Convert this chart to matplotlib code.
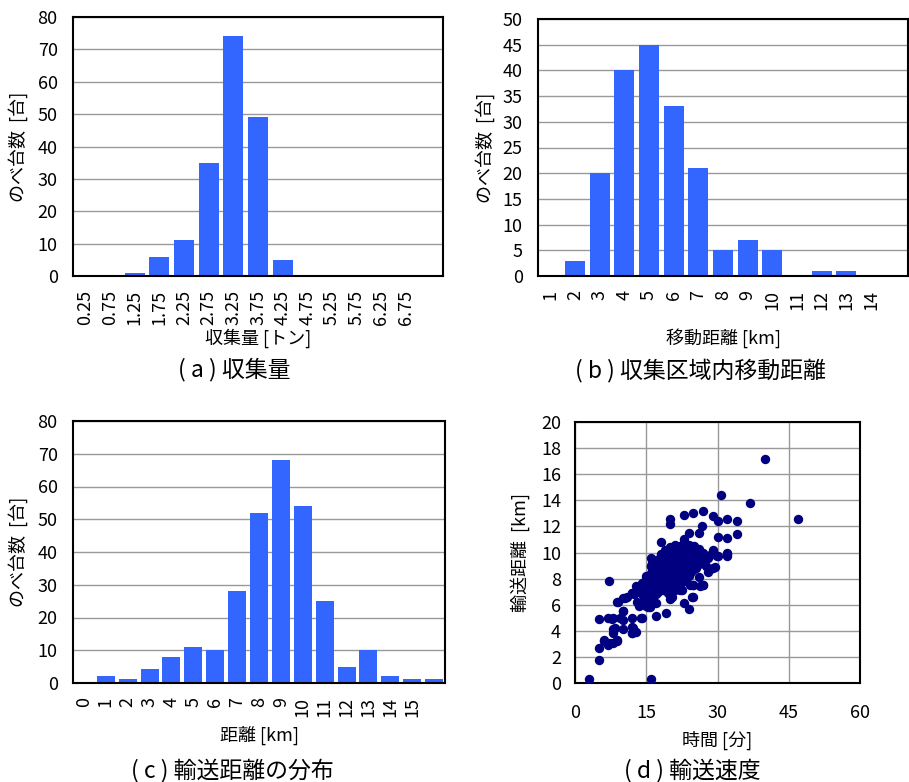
import matplotlib
matplotlib.use("Agg")
import matplotlib.pyplot as plt

plt.rcParams['font.family'] = ['Noto Sans CJK JP', 'DejaVu Sans']

# ---------------- data ----------------
cat_a = ["0.25", "0.75", "1.25", "1.75", "2.25", "2.75", "3.25", "3.75",
         "4.25", "4.75", "5.25", "5.75", "6.25", "6.75", ""]
val_a = [0, 0, 1, 6, 11, 35, 74, 49, 5, 0, 0, 0, 0, 0, 0]

cat_b = ["1", "2", "3", "4", "5", "6", "7", "8", "9", "10", "11", "12", "13", "14", ""]
val_b = [0, 3, 20, 40, 45, 33, 21, 5, 7, 5, 0, 1, 1, 0, 0]

cat_c = ["0", "1", "2", "3", "4", "5", "6", "7", "8", "9", "10", "11", "12",
         "13", "14", "15", ""]
val_c = [0, 2, 1.3, 4.4, 8, 11, 10, 28, 52, 68, 54, 25, 5, 10, 2, 1.3, 1.3]

# scatter (time [min], distance [km])
time_d = [
    2.9, 16.0, 5.1, 5.1, 5.1, 7.2, 40.0, 46.9, 30.8, 36.9, 34.0, 34.0, 31.9, 30.1,
    29.1, 27.0, 24.9, 23.0, 20.0, 20.0, 26.8, 26.0, 24.0, 23.0, 30.1, 31.9, 31.9,
    31.9, 29.1, 30.0, 29.1, 28.0, 27.0, 26.0, 24.9, 24.9, 23.0, 24.0, 18.1, 18.1,
    16.0, 16.0, 19.1, 17.0, 14.0, 12.1, 12.1, 12.9, 12.1, 10.0, 10.0, 10.0, 8.0,
    7.0, 8.0, 8.9, 8.0, 7.0, 6.0, 8.9, 10.0, 11.0, 12.1, 12.9, 14.0, 15.0, 14.0,
    15.0, 16.0, 17.0, 20.0, 9.1, 10.2, 9.5, 7.7, 8.4, 12.2, 6.0, 7.4, 8.8, 8.1,
    11.9, 10.5, 11.9, 13.8, 15.8, 16.5, 15.3, 22.1, 24.9, 27.0, 24.2, 22.5, 20.4,
    24.6, 26.3, 29.5, 28.4, 16.1, 16.5, 18.3, 31.9, 29.9,
    13.0, 13.5, 12.5, 13.0,
    14.0, 14.0, 14.5, 14.5, 14.2,
    15.0, 15.0, 15.0, 15.0, 15.5, 15.5, 15.5, 15.3,
    16.0, 16.0, 16.0, 16.0, 16.5, 16.5, 16.5, 16.3,
    17.0, 17.0, 17.0, 17.0, 17.0, 17.5, 17.5, 17.5, 17.5, 17.3,
    18.0, 18.0, 18.0, 18.0, 18.0, 18.5, 18.5, 18.5, 18.5, 18.5,
    19.0, 19.0, 19.0, 19.0, 19.0, 19.0, 19.5, 19.5, 19.5, 19.5, 19.5, 19.5,
    20.0, 20.0, 20.0, 20.0, 20.0, 20.0, 20.0, 20.5, 20.5, 20.5, 20.5, 20.5,
    21.0, 21.0, 21.0, 21.0, 21.0, 21.0, 21.0, 21.5, 21.5, 21.5, 21.5, 21.5,
    22.0, 22.0, 22.0, 22.0, 22.0, 22.0, 22.5, 22.5, 22.5, 22.5, 22.5,
    23.0, 23.0, 23.0, 23.0, 23.0, 23.0, 23.5, 23.5, 23.5, 23.5,
    24.0, 24.0, 24.0, 24.0, 24.0, 24.5, 24.5, 24.5, 24.5,
    25.0, 25.0, 25.0, 25.0, 25.5, 25.5, 25.5,
    26.0, 26.0, 26.0, 26.5, 26.5,
    27.0, 27.0, 27.5, 27.5,
    28.0, 28.5,
]
dist_d = [
    0.3, 0.3, 1.8, 2.7, 4.9, 7.8, 17.2, 12.6, 14.4, 13.8, 12.4, 11.4, 12.6, 12.4,
    12.8, 13.2, 13.0, 12.9, 12.6, 12.2, 12.0, 11.5, 11.5, 11.0, 11.2, 11.1, 10.0,
    9.7, 10.2, 9.7, 8.8, 8.5, 7.5, 8.1, 7.5, 6.6, 6.1, 5.7, 10.8, 9.9,
    9.6, 9.0, 5.4, 5.1, 5.0, 5.0, 4.3, 3.9, 3.8, 5.5, 4.8, 4.1, 5.0,
    5.0, 4.1, 3.3, 3.1, 2.9, 3.3, 6.2, 6.5, 6.6, 6.9, 7.4, 7.7, 8.2, 6.1,
    5.9, 6.1, 6.1, 6.4, 6.2, 5.5, 5.0, 4.9, 4.2, 4.2, 3.2, 3.1, 3.2, 3.8,
    3.8, 6.5, 6.9, 5.0, 5.8, 6.2, 6.4, 7.1, 7.5, 7.5, 7.5, 7.1, 6.6,
    6.6, 7.4, 8.9, 8.7, 9.0, 9.4, 9.9, 9.9, 9.7,
    6.2, 5.9, 6.8, 7.2,
    7.6, 7.0, 7.3, 6.4, 6.8,
    8.0, 7.4, 6.8, 6.2, 7.8, 7.1, 6.5, 5.8,
    8.4, 7.8, 7.2, 6.6, 8.1, 7.5, 6.9, 9.2,
    9.0, 8.5, 7.9, 7.3, 6.8, 8.8, 8.2, 7.6, 7.0, 9.4,
    9.8, 9.2, 8.6, 8.0, 7.4, 9.5, 8.9, 8.3, 7.7, 7.1,
    10.2, 9.6, 9.0, 8.4, 7.8, 7.2, 9.9, 9.3, 8.7, 8.1, 7.5, 6.9,
    10.4, 9.8, 9.2, 8.6, 8.0, 7.4, 6.8, 10.1, 9.5, 8.9, 8.3, 7.7,
    10.6, 10.0, 9.4, 8.8, 8.2, 7.6, 7.1, 10.3, 9.7, 9.1, 8.5, 7.9,
    10.5, 9.9, 9.3, 8.7, 8.1, 7.5, 10.2, 9.6, 9.0, 8.4, 7.8,
    10.8, 10.1, 9.5, 8.9, 8.3, 7.8, 10.4, 9.8, 9.2, 8.6,
    10.6, 10.0, 9.4, 8.8, 8.2, 10.3, 9.7, 9.1, 8.5,
    10.5, 9.9, 9.3, 8.7, 10.0, 9.4, 8.8,
    10.3, 9.7, 9.1, 9.9, 9.3,
    10.0, 9.4, 9.7, 9.0,
    9.6, 9.8,
]

xlabel_a = "収集量 [トン]"
xlabel_b = "移動距離 [km]"
xlabel_c = "距離 [km]"
xlabel_d = "時間 [分]"
ylabel_hist = "のべ台数  [台]"
ylabel_d = "輸送距離  [km]"
captions = ["( a ) 収集量", "( b ) 収集区域内移動距離", "( c ) 輸送距離の分布", "( d ) 輸送速度"]

BAR = "#3366FF"
DOT = "#000080"
GRID = "#999999"
FS = 13
LFS = 13

W, H = 909, 782
fig = plt.figure(figsize=(W / 100, H / 100), dpi=100)


def rect(l, t, r, b):
    return [l / W, 1 - b / H, (r - l) / W, (b - t) / H]


def style(ax):
    for s in ax.spines.values():
        s.set_linewidth(1.5)
        s.set_color("black")
    ax.tick_params(length=0, labelsize=FS)
    ax.set_axisbelow(True)


def hist(ax, cats, vals, ymax, ystep, xl, xlabel_y, ylabel_x):
    pos = list(range(len(cats)))
    ax.bar(pos, vals, width=0.82, color=BAR, zorder=2)
    ax.set_xlim(-0.5, len(cats) - 0.5)
    ax.set_ylim(0, ymax)
    ax.set_yticks(list(range(0, ymax + 1, ystep)))
    ax.set_xticks(pos)
    ax.set_xticklabels(cats, rotation=90, va="top", ha="center")
    ax.yaxis.grid(True, color=GRID, linewidth=1)
    style(ax)
    ax.tick_params(axis="x", pad=10)
    ax.tick_params(axis="y", pad=11)
    ax.set_xlabel(xl, fontsize=LFS)
    ax.xaxis.label.set_va("center")
    ax.xaxis.set_label_coords(0.5, xlabel_y)
    ax.set_ylabel(ylabel_hist, fontsize=LFS)
    ax.yaxis.label.set_va("center")
    ax.yaxis.set_label_coords(ylabel_x, 0.5)


ax_a = fig.add_axes(rect(73, 17, 443, 276))
hist(ax_a, cat_a, val_a, 80, 10, xlabel_a, -0.24, -0.149)

ax_b = fig.add_axes(rect(538, 19, 908, 276))
hist(ax_b, cat_b, val_b, 50, 5, xlabel_b, -0.24, -0.143)

ax_c = fig.add_axes(rect(73, 421, 445, 683))
hist(ax_c, cat_c, val_c, 80, 10, xlabel_c, -0.198, -0.149)

ax_d = fig.add_axes(rect(575, 422, 860, 683))
ax_d.scatter(time_d, dist_d, s=46, color=DOT, linewidths=0, zorder=3)
ax_d.set_xlim(0, 60)
ax_d.set_ylim(0, 20)
ax_d.set_xticks([0, 15, 30, 45, 60])
ax_d.set_yticks(list(range(0, 21, 2)))
ax_d.grid(True, color=GRID, linewidth=1)
style(ax_d)
ax_d.tick_params(axis="x", pad=15)
ax_d.tick_params(axis="y", pad=10)
ax_d.set_xlabel(xlabel_d, fontsize=LFS)
ax_d.xaxis.label.set_va("center")
ax_d.xaxis.set_label_coords(0.5, -0.218)
ax_d.set_ylabel(ylabel_d, fontsize=LFS)
ax_d.yaxis.label.set_va("center")
ax_d.yaxis.set_label_coords(-0.193, 0.5)

cap_pos = [(234, 370), (700, 370), (232, 770), (692, 770)]
for (cx, cy), txt in zip(cap_pos, captions):
    fig.text(cx / W, 1 - cy / H, txt, ha="center", va="center", fontsize=16.5)

fig.savefig("out.png", dpi=100)
